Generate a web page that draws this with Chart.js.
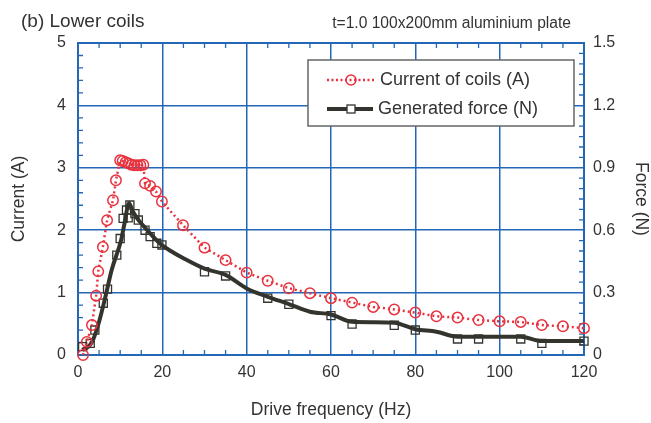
<!DOCTYPE html>
<html>
<head>
<meta charset="utf-8">
<script src="https://cdn.jsdelivr.net/npm/chart.js@4.4.1/dist/chart.umd.min.js"></script>
<style>
  html, body { margin: 0; padding: 0; background: #fff; }
  #wrap { width: 651px; height: 423px; }
</style>
</head>
<body>
<div id="wrap"><canvas id="coilChart" width="651" height="423"></canvas></div>
<script>
const freqTicks = [0, 20, 40, 60, 80, 100, 120];
const currentTicks = [0, 1, 2, 3, 4, 5];
const forceTicks = [0, 0.3, 0.6, 0.9, 1.2, 1.5];

// Current of coils (A)
const currentFreq = [1.2, 2.1, 3.3, 4.3, 4.8, 5.9, 6.9, 8.3, 9.0, 10.0, 10.6, 11.3, 12.0, 12.7, 13.4, 14.1, 14.8, 15.5,
    15.9, 17.1, 18.5, 19.9, 24.9, 30, 35, 40, 45, 50, 55, 60, 65, 70, 75, 80, 85, 90, 95, 100, 105, 110, 115, 120];
const currentVals = [0.00, 0.21, 0.48, 0.95, 1.34, 1.73, 2.16, 2.48, 2.80, 3.12, 3.11, 3.09, 3.07, 3.05, 3.04, 3.04, 3.04, 3.05,
    2.75, 2.71, 2.62, 2.46, 2.08, 1.72, 1.52, 1.32, 1.19, 1.07, 0.99, 0.91, 0.84, 0.77, 0.73, 0.68, 0.62, 0.60, 0.56, 0.54, 0.53, 0.48, 0.46, 0.43];

// Generated force (N), measured points
const forceFreq = [1.1, 2.9, 4.0, 6.0, 7.0, 9.2, 10.0, 10.7, 11.5, 11.9, 12.3, 13.5, 14.3, 15.9, 17.1, 18.7, 19.9,
    30, 35, 45, 50, 60, 65, 75, 80, 90, 95, 105, 110, 120];
const forceVals = [0.04, 0.056, 0.12, 0.249, 0.317, 0.48, 0.56, 0.657, 0.697, 0.659, 0.721, 0.68, 0.649, 0.60, 0.569, 0.537, 0.529,
    0.40, 0.38, 0.273, 0.244, 0.189, 0.149, 0.143, 0.12, 0.077, 0.077, 0.077, 0.056, 0.067];

// Generated force (N), fitted curve
const curveFreq = [1, 2.5, 3.5, 5, 6.5, 8, 10.2, 11, 12.1, 13, 14.5, 16, 18, 19.5, 22, 25, 30, 35, 40, 45, 50,
    55, 60, 65, 70, 75, 80, 85, 90, 95, 100, 105, 110, 115, 120];
const curveVals = [0.025, 0.04, 0.07, 0.16, 0.28, 0.41, 0.55, 0.63, 0.73, 0.69, 0.645, 0.61, 0.565, 0.535, 0.5, 0.465, 0.415, 0.385, 0.32, 0.28, 0.245,
    0.208, 0.195, 0.16, 0.158, 0.155, 0.124, 0.112, 0.088, 0.088, 0.088, 0.088, 0.067, 0.067, 0.067];

const RED = '#e8323e';
const DARK = '#34342f';
const BLUE = '#2467b6';
const TEXT = '#333';
const FONT = "'Liberation Sans', Arial, sans-serif";

function pairs(xs, ys) {
    return xs.map((x, i) => ({ x: x, y: ys[i] }));
}

// frame + small inner ticks on all four sides
const framePlugin = {
    id: 'frame',
    beforeDatasetsDraw(chart) {
        const { ctx, chartArea: a, scales } = chart;
        ctx.save();
        ctx.strokeStyle = BLUE;
        ctx.lineWidth = 1.3;
        ctx.beginPath();
        for (let v = 5; v < 120; v += 5) {
            if (v % 20 === 0) continue;
            const x = scales.x.getPixelForValue(v);
            ctx.moveTo(x, a.bottom); ctx.lineTo(x, a.bottom - 5);
            ctx.moveTo(x, a.top); ctx.lineTo(x, a.top + 5);
        }
        for (let i = 1; i < 25; i++) {
            if (i % 5 === 0) continue;
            const y = scales.y.getPixelForValue(i * 0.2);
            ctx.moveTo(a.left, y); ctx.lineTo(a.left + 5, y);
        }
        for (let i = 1; i < 30; i++) {
            if (i % 6 === 0) continue;
            const y = scales.y2.getPixelForValue(i * 0.05);
            ctx.moveTo(a.right, y); ctx.lineTo(a.right - 5, y);
        }
        ctx.stroke();
        ctx.lineWidth = 2;
        ctx.strokeRect(a.left, a.top, a.right - a.left, a.bottom - a.top);
        ctx.restore();
    }
};

// boxed legend and the two titles
const legendPlugin = {
    id: 'boxLegend',
    afterDraw(chart) {
        const ctx = chart.ctx;
        ctx.save();
        ctx.fillStyle = TEXT;
        ctx.textBaseline = 'alphabetic';
        ctx.font = '19px ' + FONT;
        ctx.fillText('(b) Lower coils', 21, 27);
        ctx.font = '15.6px ' + FONT;
        ctx.textAlign = 'right';
        ctx.fillText('t=1.0 100x200mm aluminium plate', 571, 28);

        ctx.fillStyle = '#fff';
        ctx.fillRect(308, 60, 266, 66);
        ctx.strokeStyle = '#666';
        ctx.lineWidth = 1.5;
        ctx.strokeRect(308, 60, 266, 66);

        ctx.strokeStyle = RED;
        ctx.lineWidth = 2.5;
        ctx.setLineDash([2, 2.5]);
        ctx.beginPath(); ctx.moveTo(327, 80); ctx.lineTo(374, 80); ctx.stroke();
        ctx.setLineDash([]);
        ctx.lineWidth = 1.5;
        ctx.beginPath(); ctx.arc(351, 80, 5, 0, 2 * Math.PI); ctx.stroke();

        ctx.strokeStyle = DARK;
        ctx.lineWidth = 4;
        ctx.beginPath(); ctx.moveTo(327, 109); ctx.lineTo(373, 109); ctx.stroke();
        ctx.lineWidth = 1.3;
        ctx.fillStyle = '#fff';
        ctx.fillRect(347, 105, 8, 8);
        ctx.strokeRect(347, 105, 8, 8);

        ctx.fillStyle = TEXT;
        ctx.textAlign = 'left';
        ctx.textBaseline = 'middle';
        ctx.font = '18px ' + FONT;
        ctx.fillText('Current of coils (A)', 380, 80);
        ctx.fillText('Generated force (N)', 378, 109);
        ctx.restore();
    }
};

Chart.defaults.font.family = FONT;
Chart.defaults.color = TEXT;

const ctx = document.getElementById('coilChart').getContext('2d');
new Chart(ctx, {
    type: 'line',
    data: {
        datasets: [
            {
                label: 'Current of coils (A)',
                data: pairs(currentFreq, currentVals),
                yAxisID: 'y',
                borderColor: RED,
                borderWidth: 2.5,
                borderDash: [2, 3],
                pointStyle: 'circle',
                pointRadius: 5.2,
                pointBorderWidth: 1.5,
                pointBorderColor: RED,
                pointBackgroundColor: 'rgba(0,0,0,0)',
                tension: 0,
                clip: false
            },
            {
                label: 'Generated force (N)',
                data: pairs(forceFreq, forceVals),
                yAxisID: 'y2',
                showLine: false,
                pointStyle: 'rect',
                pointRadius: 5.7,
                pointBorderWidth: 1.3,
                pointBorderColor: DARK,
                pointBackgroundColor: 'rgba(0,0,0,0)',
                clip: false
            },
            {
                label: 'force curve',
                data: pairs(curveFreq, curveVals),
                yAxisID: 'y2',
                borderColor: DARK,
                borderWidth: 4,
                pointRadius: 0,
                cubicInterpolationMode: 'monotone',
                clip: false
            }
        ]
    },
    options: {
        responsive: false,
        animation: false,
        layout: { padding: { top: 43, left: 0, right: 0, bottom: 0 } },
        plugins: {
            legend: { display: false },
            tooltip: { enabled: false }
        },
        scales: {
            x: {
                type: 'linear',
                min: 0,
                max: 120,
                afterBuildTicks: axis => { axis.ticks = freqTicks.map(v => ({ value: v })); },
                afterFit: s => { s.height = 68; },
                grid: { color: BLUE, lineWidth: 1.5, drawTicks: false },
                border: { display: false },
                ticks: { padding: 8, font: { size: 16 }, color: TEXT },
                title: { display: true, text: 'Drive frequency (Hz)', font: { size: 17.5 }, color: TEXT, padding: { top: 0, bottom: 2 } }
            },
            y: {
                position: 'left',
                min: 0,
                max: 5,
                afterBuildTicks: axis => { axis.ticks = currentTicks.map(v => ({ value: v })); },
                afterFit: s => { s.width = 78; },
                grid: { color: BLUE, lineWidth: 1.5, drawTicks: false },
                border: { display: false },
                ticks: { padding: 12, font: { size: 16 }, color: TEXT },
                title: { display: true, text: 'Current (A)', font: { size: 17.5 }, color: TEXT, padding: { top: 9, bottom: 0 } }
            },
            y2: {
                position: 'right',
                min: 0,
                max: 1.5,
                afterBuildTicks: axis => { axis.ticks = forceTicks.map(v => ({ value: v })); },
                afterFit: s => { s.width = 67; },
                grid: { display: false, drawTicks: false },
                border: { display: false },
                ticks: { padding: 9, font: { size: 16 }, color: TEXT, callback: v => v === 0 ? '0' : v.toFixed(1) },
                title: { display: true, text: 'Force (N)', font: { size: 17.5 }, color: TEXT, padding: { top: 0, bottom: 0 } }
            }
        }
    },
    plugins: [framePlugin, legendPlugin]
});
</script>
</body>
</html>
